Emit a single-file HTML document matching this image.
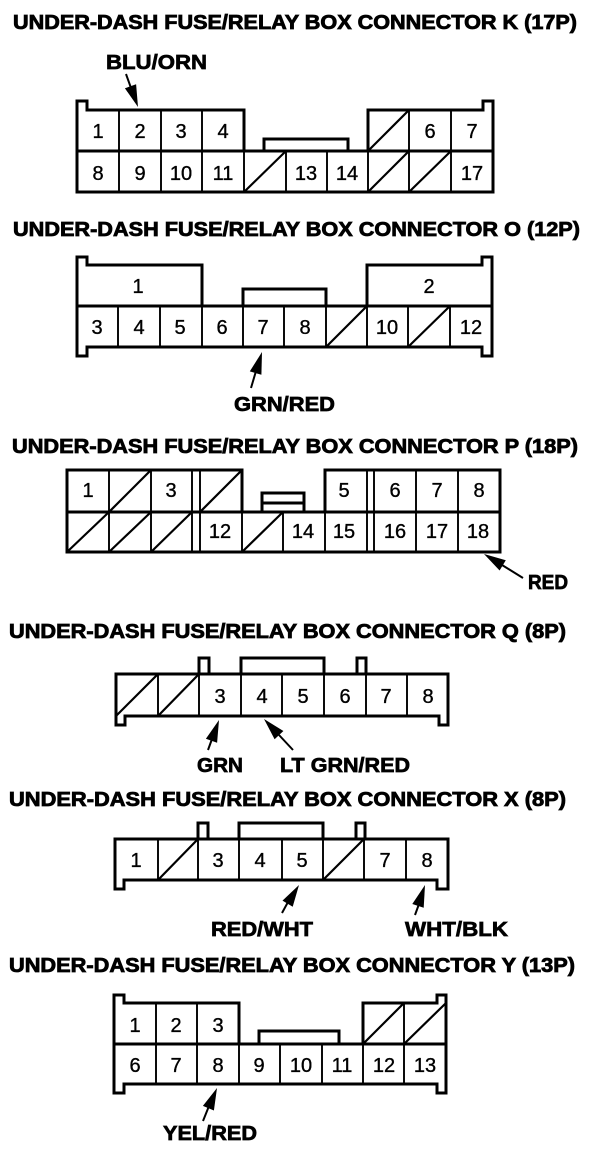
<!DOCTYPE html>
<html>
<head>
<meta charset="utf-8">
<style>
html,body{margin:0;padding:0;background:#fff;width:608px;height:1150px;overflow:hidden}
svg{display:block}
.t{font:bold 20px "Liberation Sans",sans-serif;fill:#000;stroke:#000;stroke-width:.8}
.l{font:bold 20px "Liberation Sans",sans-serif;fill:#000;stroke:#000;stroke-width:.7}
.n{font:20px "Liberation Sans",sans-serif;fill:#000;stroke:#000;stroke-width:.35;text-anchor:middle}
.b{fill:none;stroke:#000;stroke-width:3}
.c{fill:none;stroke:#000;stroke-width:1.9}
.d{fill:none;stroke:#000;stroke-width:2.2}
.a{fill:none;stroke:#000;stroke-width:2}
</style>
</head>
<body>
<svg width="608" height="1150" viewBox="0 0 608 1150" xmlns="http://www.w3.org/2000/svg">
<rect width="608" height="1150" fill="#fff"/>

<!-- Titles -->
<text class="t" x="13" y="29" textLength="564" lengthAdjust="spacingAndGlyphs">UNDER-DASH FUSE/RELAY BOX CONNECTOR K (17P)</text>
<text class="t" x="13" y="236" textLength="567" lengthAdjust="spacingAndGlyphs">UNDER-DASH FUSE/RELAY BOX CONNECTOR O (12P)</text>
<text class="t" x="12" y="453" textLength="566" lengthAdjust="spacingAndGlyphs">UNDER-DASH FUSE/RELAY BOX CONNECTOR P (18P)</text>
<text class="t" x="9" y="638" textLength="557" lengthAdjust="spacingAndGlyphs">UNDER-DASH FUSE/RELAY BOX CONNECTOR Q (8P)</text>
<text class="t" x="9" y="806" textLength="557" lengthAdjust="spacingAndGlyphs">UNDER-DASH FUSE/RELAY BOX CONNECTOR X (8P)</text>
<text class="t" x="9" y="972" textLength="566" lengthAdjust="spacingAndGlyphs">UNDER-DASH FUSE/RELAY BOX CONNECTOR Y (13P)</text>

<!-- Connector K -->
<path class="b" d="M77 192V101H87V110H244V151H368V110H483V101H493V192ZM77 151H493M264 151V139H348V151"/>
<path class="c" d="M119 110V192M161 110V192M202 110V192M244 151V192M286 151V192M327 151V192M368 151V192M409 110V192M451 110V192"/>
<path class="d" d="M368 151L409 110M244 192L286 151M368 192L409 151M409 192L451 151"/>
<text class="n" x="98" y="138">1</text><text class="n" x="140" y="138">2</text><text class="n" x="181" y="138">3</text><text class="n" x="223" y="138">4</text><text class="n" x="430" y="138">6</text><text class="n" x="472" y="138">7</text>
<text class="n" x="98" y="180">8</text><text class="n" x="140" y="180">9</text><text class="n" x="181" y="180">10</text><text class="n" x="223" y="180">11</text><text class="n" x="306" y="180">13</text><text class="n" x="347" y="180">14</text><text class="n" x="472" y="180">17</text>

<!-- Connector O -->
<path class="b" d="M77 306V257H87V265H202V306H367V265H482V257H492V356H482V347H87V356H77ZM77 306H492M243 306V289H326V306"/>
<path class="c" d="M118 306V347M160 306V347M202 306V347M243 306V347M284 306V347M326 306V347M367 306V347M408 306V347M450 306V347"/>
<path class="d" d="M326 347L367 306M408 347L450 306"/>
<text class="n" x="138" y="293">1</text><text class="n" x="429" y="293">2</text>
<text class="n" x="97" y="334">3</text><text class="n" x="139" y="334">4</text><text class="n" x="180" y="334">5</text><text class="n" x="222" y="334">6</text><text class="n" x="263" y="334">7</text><text class="n" x="305" y="334">8</text><text class="n" x="387" y="334">10</text><text class="n" x="471" y="334">12</text>

<!-- Connector P -->
<path class="b" d="M67 552V470H242V512H325V470H500V552ZM67 512H500M262 512V493H304V512M262 503H304"/>
<path class="c" d="M109 470V552M151 470V552M192 470V552M200 470V552M242 512V552M283 512V552M325 512V552M367 470V552M374 470V552M416 470V552M458 470V552"/>
<path class="d" d="M109 512L151 470M200 512L242 470M67 552L109 512M109 552L151 512M151 552L192 512M242 552L283 512"/>
<text class="n" x="88" y="497">1</text><text class="n" x="171" y="497">3</text><text class="n" x="344" y="497">5</text><text class="n" x="395" y="497">6</text><text class="n" x="437" y="497">7</text><text class="n" x="479" y="497">8</text>
<text class="n" x="220" y="538">12</text><text class="n" x="303" y="538">14</text><text class="n" x="344" y="538">15</text><text class="n" x="395" y="538">16</text><text class="n" x="437" y="538">17</text><text class="n" x="478" y="538">18</text>

<!-- Connector Q -->
<path class="b" d="M116 725V674H448V725H439V716H125V725ZM199 674V658H209V674M241 674V658H324V674M357 674V658H366V674"/>
<path class="c" d="M158 674V716M199 674V716M241 674V716M282 674V716M324 674V716M366 674V716M407 674V716"/>
<path class="d" d="M116 716L158 674M158 716L199 674"/>
<text class="n" x="220" y="703">3</text><text class="n" x="262" y="703">4</text><text class="n" x="303" y="703">5</text><text class="n" x="345" y="703">6</text><text class="n" x="386" y="703">7</text><text class="n" x="428" y="703">8</text>

<!-- Connector X -->
<path class="b" d="M115 889V839H448V889H437V880H124V889ZM198 839V823H208V839M239 839V823H323V839M356 839V823H365V839"/>
<path class="c" d="M158 839V880M198 839V880M239 839V880M282 839V880M323 839V880M364 839V880M406 839V880"/>
<path class="d" d="M158 880L198 839M323 880L364 839"/>
<text class="n" x="136" y="867">1</text><text class="n" x="218" y="867">3</text><text class="n" x="260" y="867">4</text><text class="n" x="302" y="867">5</text><text class="n" x="385" y="867">7</text><text class="n" x="427" y="867">8</text>

<!-- Connector Y -->
<path class="b" d="M114 1044V995H124V1003H239V1044H363V1003H437V995H446V1093H437V1084H124V1093H114ZM114 1044H446M259 1044V1031H339V1044"/>
<path class="c" d="M156 1003V1084M197 1003V1084M239 1044V1084M280 1044V1084M322 1044V1084M363 1044V1084M404 1003V1084"/>
<path class="d" d="M363 1044L404 1003M404 1044L446 1003"/>
<text class="n" x="135" y="1032">1</text><text class="n" x="176" y="1032">2</text><text class="n" x="218" y="1032">3</text>
<text class="n" x="135" y="1072">6</text><text class="n" x="176" y="1072">7</text><text class="n" x="218" y="1072">8</text><text class="n" x="259" y="1072">9</text><text class="n" x="301" y="1072">10</text><text class="n" x="342" y="1072">11</text><text class="n" x="384" y="1072">12</text><text class="n" x="425" y="1072">13</text>

<!-- Wire labels -->
<text class="l" x="106" y="69" textLength="101" lengthAdjust="spacingAndGlyphs">BLU/ORN</text>
<text class="l" x="234" y="411" textLength="101" lengthAdjust="spacingAndGlyphs">GRN/RED</text>
<text class="l" x="528" y="589" textLength="40" lengthAdjust="spacingAndGlyphs">RED</text>
<text class="l" x="197" y="772" textLength="46" lengthAdjust="spacingAndGlyphs">GRN</text>
<text class="l" x="280" y="772" textLength="130" lengthAdjust="spacingAndGlyphs">LT GRN/RED</text>
<text class="l" x="211" y="936" textLength="102" lengthAdjust="spacingAndGlyphs">RED/WHT</text>
<text class="l" x="405" y="936" textLength="103" lengthAdjust="spacingAndGlyphs">WHT/BLK</text>
<text class="l" x="163" y="1140" textLength="94" lengthAdjust="spacingAndGlyphs">YEL/RED</text>

<!-- Arrows -->
<path class="a" d="M126 74L131 88M251 388L256 371M523 578L502 565M208 750L212 739M293 750L279 735M282 913L288 902M415 915L419 904M203 1121L209 1106"/>
<polygon points="138,107 136.1,84.3 124.9,88.3"/>
<polygon points="262,352 261.4,374.8 249.8,371.4"/>
<polygon points="484,554 499.6,570.5 505.8,560.3"/>
<polygon points="219,720 217.1,742.7 205.9,738.7"/>
<polygon points="264,719 274.6,739.2 283.4,731"/>
<polygon points="299,885 292.7,906.8 282.5,900.6"/>
<polygon points="425,885 423.7,907.8 412.3,904"/>
<polygon points="217,1088 213.9,1110.5 202.9,1105.9"/>
</svg>
</body>
</html>
